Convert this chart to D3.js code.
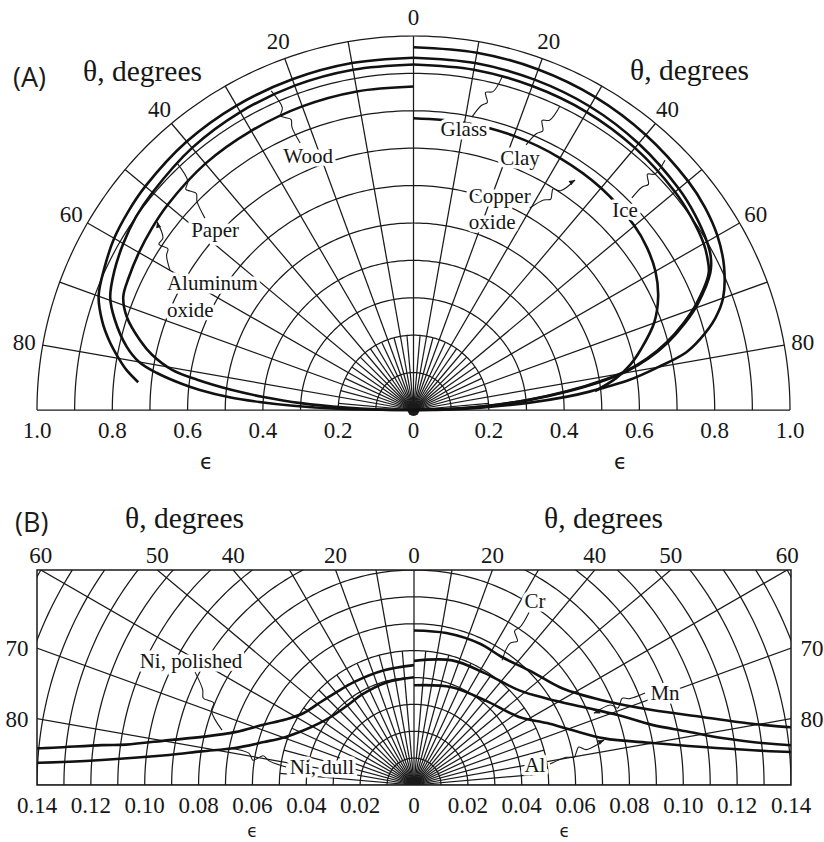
<!DOCTYPE html>
<html>
<head>
<meta charset="utf-8">
<script src="https://cdn.jsdelivr.net/npm/d3@7"></script>
<style>
  body { margin: 0; background: #fff; }
  svg { display: block; }
  .serif { font-family: "Liberation Serif", "Times New Roman", serif; fill: #161616; }
  .halo { stroke: #fff; stroke-width: 7px; stroke-linejoin: round; paint-order: stroke; }
</style>
</head>
<body>
<svg id="chart" width="824" height="842"></svg>
<script>
// ---------- Panel A: directional emissivity of nonconductors ----------
// Each series: [theta (deg from normal), emissivity]
const woodA = [[0,0.942],[10,0.942],[20,0.941],[30,0.94],[40,0.937],[50,0.93],[55,0.925],[60,0.918],[65,0.905],[70,0.89],[74,0.86],[77,0.83],[80,0.795],[82,0.77],[84.2,0.735]];
const paperA = [[0,0.924],[10,0.924],[20,0.923],[30,0.92],[40,0.915],[50,0.905],[55,0.9],[60,0.89],[65,0.877],[69.5,0.86],[73,0.83],[77.5,0.78],[80,0.74],[81.7,0.69],[83.5,0.62],[84.6,0.57],[86,0.49],[87,0.41],[88,0.32],[89,0.2],[90,0]];
const aluminumOxideA = [[0,0.865],[10,0.865],[20,0.864],[30,0.862],[40,0.86],[50,0.853],[55,0.848],[60,0.842],[65,0.835],[68.6,0.828],[72,0.8],[75.6,0.75],[78,0.71],[80.5,0.65],[82,0.58],[83.6,0.49],[85,0.4],[86.5,0.3],[88,0.18],[89,0.1],[90,0]];
const iceA = [[0,0.97],[10,0.97],[20,0.969],[30,0.966],[40,0.96],[50,0.952],[55,0.945],[60,0.932],[65,0.91],[70,0.875],[73,0.838],[76,0.785],[78,0.74],[80,0.66],[82,0.58],[84,0.47],[85,0.41],[86.5,0.3],[88,0.18],[89,0.1],[90,0]];
const glassA = [[0,0.942],[10,0.942],[20,0.94],[30,0.937],[40,0.93],[50,0.92],[55,0.912],[60,0.9],[62.5,0.89],[65,0.87],[69.5,0.805],[72,0.76],[75,0.7],[77.5,0.64],[79.5,0.58],[81,0.52],[83,0.42],[85,0.31],[87,0.19],[88.5,0.1],[90,0]];
const clayA = [[0,0.924],[10,0.924],[20,0.922],[30,0.92],[40,0.915],[50,0.907],[55,0.9],[60,0.89],[62.5,0.88],[65,0.865],[69.5,0.8],[72,0.755],[75,0.695],[77.5,0.635],[79.5,0.575],[81,0.51],[83,0.41],[85,0.3],[87,0.18],[88.5,0.09],[90,0]];
const copperOxideA = [[0,0.78],[10,0.78],[20,0.78],[30,0.778],[40,0.775],[50,0.766],[55,0.757],[60,0.742],[65,0.717],[70,0.68],[75,0.625],[78,0.59],[81,0.545],[84,0.485]];

const leftSeriesA = [woodA, paperA, aluminumOxideA];
const rightSeriesA = [iceA, glassA, clayA, copperOxideA];

const thetaTicksA = [0, 20, 40, 60, 80];
const epsTicksA = [1.0, 0.8, 0.6, 0.4, 0.2, 0, 0.2, 0.4, 0.6, 0.8, 1.0];

// ---------- Panel B: directional emissivity of metals ----------
const niPolishedB = [[0,0.0446],[15,0.0441],[30,0.0443],[40,0.045],[50,0.0468],[57,0.049],[63,0.0536],[68,0.06],[73.5,0.0693],[77,0.08],[79.6,0.0925],[82,0.108],[82.7,0.1168],[84.4,0.14],[85,0.155]];
const niDullB = [[0,0.0401],[15,0.0395],[30,0.0388],[40,0.0386],[50,0.0398],[57,0.0421],[64,0.046],[69.6,0.0511],[74,0.058],[78.3,0.0679],[81,0.08],[83,0.0917],[85.4,0.1163],[86.6,0.1395],[87,0.155]];
const crB = [[0,0.0575],[12,0.0578],[25,0.058],[34.2,0.0577],[46,0.0607],[56.8,0.0657],[65.7,0.0766],[72.5,0.0927],[76.7,0.11],[79.5,0.126],[81.3,0.142],[82,0.155]];
const mnB = [[0,0.0462],[17,0.0485],[32,0.0492],[48,0.0526],[57,0.059],[65,0.0688],[71,0.08],[75.8,0.0912],[78.8,0.103],[81.3,0.1157],[84,0.1412],[84.5,0.155]];
const alB = [[0,0.0371],[21,0.039],[40,0.0411],[57,0.0465],[65,0.0545],[70.8,0.0621],[76.2,0.0727],[80,0.09],[83,0.113],[85,0.1409],[85.5,0.155]];

const leftSeriesB = [niPolishedB, niDullB];
const rightSeriesB = [crB, mnB, alB];

const thetaTopTicksB = [60, 50, 40, 20, 0, 20, 40, 50, 60];
const thetaTopSidesB = [-1, -1, -1, -1, 1, 1, 1, 1, 1];
const thetaSideTicksB = [70, 80];
const epsTicksB = [0.14, 0.12, 0.10, 0.08, 0.06, 0.04, 0.02, 0, 0.02, 0.04, 0.06, 0.08, 0.10, 0.12, 0.14];

// ---------- set-up ----------
const svg = d3.select("#chart");
const rad = d => d * Math.PI / 180;
const ink = "#1a1a1a";

function polarLayer(xs, ys) {
  // side = -1 (left half) or +1 (right half)
  return (theta, eps, side) => [xs(side * eps * Math.sin(rad(theta))), ys(eps * Math.cos(rad(theta)))];
}

function squiggle(p0, p1) {
  const dx = p1[0] - p0[0], dy = p1[1] - p0[1];
  const L = Math.hypot(dx, dy), nx = -dy / L, ny = dx / L;
  const at = (t, o) => [p0[0] + dx * t + nx * o, p0[1] + dy * t + ny * o];
  return d3.line().curve(d3.curveCatmullRom.alpha(0.5))([
    at(0, 0), at(0.3, 0.5), at(0.42, 3.5), at(0.5, -1), at(0.56, -4), at(0.66, 1.5), at(1, 0)
  ]);
}

function arrowHead(g, p0, p1) {
  const a = Math.atan2(p1[1] - p0[1], p1[0] - p0[0]);
  const s = 6, w = 2.6;
  const b = [p1[0] - s * Math.cos(a), p1[1] - s * Math.sin(a)];
  g.append("path")
    .attr("d", `M${p1[0]},${p1[1]}L${b[0] - w * Math.sin(a)},${b[1] + w * Math.cos(a)}L${b[0] + w * Math.sin(a)},${b[1] - w * Math.cos(a)}Z`)
    .attr("fill", ink);
}

const tickFont = 23;
const labelFont = 21;
const titleFont = 29.5;
const lineGen = d3.line().curve(d3.curveCatmullRom.alpha(0.5));

// ================= PANEL A =================
const xA = d3.scaleLinear().domain([-1, 1]).range([37, 790]);
const yA = d3.scaleLinear().domain([0, 1]).range([410, 36]);
const ptA = polarLayer(xA, yA);
const gA = svg.append("g");
const gridA = gA.append("g").attr("fill", "none").attr("stroke", ink).attr("stroke-width", 1.25);

// circles of constant emissivity
d3.range(1, 11).map(k => k / 10).forEach(e => {
  const pts = d3.range(-90, 90.01, 1).map(t => ptA(Math.abs(t), e, t < 0 ? -1 : 1));
  gridA.append("path").attr("d", d3.line()(pts));
});
// radial lines every 10 degrees (full) and 5 degrees (inner)
d3.range(-90, 90.01, 5).forEach(t => {
  const rOut = t % 10 === 0 ? 1 : 0.2;
  const s = t < 0 ? -1 : 1;
  gridA.append("path").attr("d", d3.line()([ptA(Math.abs(t), 0, s), ptA(Math.abs(t), rOut, s)]));
});
gA.append("circle").attr("cx", xA(0)).attr("cy", yA(0)).attr("r", 6).attr("fill", ink);

// data curves
const curvesA = gA.append("g").attr("fill", "none").attr("stroke", "#111").attr("stroke-width", 2.6);
leftSeriesA.forEach(s => curvesA.append("path").attr("d", lineGen(s.map(d => ptA(d[0], d[1], -1)))));
rightSeriesA.forEach(s => curvesA.append("path").attr("d", lineGen(s.map(d => ptA(d[0], d[1], 1)))));

// angle labels around the rim
thetaTicksA.forEach(t => {
  (t === 0 ? [1] : [-1, 1]).forEach(s => {
    const p = ptA(t, 1.05, s);
    gA.append("text").attr("class", "serif").attr("x", p[0]).attr("y", p[1]).attr("dy", "0.35em")
      .attr("text-anchor", "middle").attr("font-size", tickFont).text(t);
  });
});
// emissivity labels along the base
epsTicksA.forEach((e, i) => {
  const v = i < 5 ? -e : e;
  gA.append("text").attr("class", "serif").attr("x", xA(v)).attr("y", 438)
    .attr("text-anchor", "middle").attr("font-size", tickFont).text(e === 0 ? "0" : d3.format(".1f")(e));
});
[-0.55, 0.55].forEach(v => gA.append("text").attr("x", xA(v)).attr("y", 469).attr("text-anchor", "middle")
  .attr("font-family", "DejaVu Sans, sans-serif").attr("font-size", 21).attr("fill", ink).text("ϵ"));

// titles
svg.append("text").attr("x", 13).attr("y", 87).attr("font-family", "Open Sans, sans-serif").attr("font-size", 27).attr("fill", ink).text("(A)");
svg.append("text").attr("class", "serif").attr("x", 83).attr("y", 81).attr("font-size", titleFont).text("θ, degrees");
svg.append("text").attr("class", "serif").attr("x", 630).attr("y", 80).attr("font-size", titleFont).text("θ, degrees");

// series labels (Cartesian positions in emissivity units) with knock-out halo
const labelsA = [
  { t: "Wood", u: -0.280, v: 0.679, a: "middle" },
  { t: "Paper", u: -0.527, v: 0.481, a: "middle" },
  { t: "Aluminum", u: -0.655, v: 0.340, a: "start" },
  { t: "oxide", u: -0.655, v: 0.268, a: "start" },
  { t: "Glass", u: 0.134, v: 0.751, a: "middle" },
  { t: "Clay", u: 0.283, v: 0.676, a: "middle" },
  { t: "Copper", u: 0.147, v: 0.572, a: "start" },
  { t: "oxide", u: 0.147, v: 0.503, a: "start" },
  { t: "Ice", u: 0.562, v: 0.537, a: "middle" }
];
labelsA.forEach(d => gA.append("text").attr("class", "serif halo").attr("x", xA(d.u)).attr("y", yA(d.v))
  .attr("dy", "0.35em").attr("text-anchor", d.a).attr("font-size", labelFont).text(d.t));

const leadersA = [
  { from: [-0.301, 0.714], to: [-0.378, 0.853] },
  { from: [-0.554, 0.513], to: [-0.628, 0.660] },
  { from: [-0.647, 0.374], to: [-0.681, 0.503], arrow: true },
  { from: [0.155, 0.783], to: [0.235, 0.890] },
  { from: [0.299, 0.709], to: [0.389, 0.813] },
  { from: [0.309, 0.540], to: [0.429, 0.615], arrow: true },
  { from: [0.580, 0.567], to: [0.668, 0.668] }
];
const leadG = svg.append("g").attr("fill", "none").attr("stroke", ink).attr("stroke-width", 1.1);
leadersA.forEach(d => {
  const p0 = [xA(d.from[0]), yA(d.from[1])], p1 = [xA(d.to[0]), yA(d.to[1])];
  leadG.append("path").attr("d", squiggle(p0, p1));
  if (d.arrow) arrowHead(svg, p0, p1);
});

// ================= PANEL B =================
const xB = d3.scaleLinear().domain([-0.14, 0.14]).range([37, 791]);
const yB = d3.scaleLinear().domain([0, 0.08]).range([785, 570]);
const ptB = polarLayer(xB, yB);
svg.append("clipPath").attr("id", "frameB").append("rect")
  .attr("x", xB(-0.14)).attr("y", yB(0.08)).attr("width", xB(0.14) - xB(-0.14)).attr("height", yB(0) - yB(0.08));
const gB = svg.append("g").attr("clip-path", "url(#frameB)");
const gridB = gB.append("g").attr("fill", "none").attr("stroke", ink).attr("stroke-width", 1.25);
d3.range(1, 17).map(k => k / 100).forEach(e => {
  const pts = d3.range(-90, 90.01, 1).map(t => ptB(Math.abs(t), e, t < 0 ? -1 : 1));
  gridB.append("path").attr("d", d3.line()(pts));
});
d3.range(-90, 90.01, 5).forEach(t => {
  const rOut = t % 10 === 0 ? 0.2 : 0.05;
  const s = t < 0 ? -1 : 1;
  gridB.append("path").attr("d", d3.line()([ptB(Math.abs(t), 0, s), ptB(Math.abs(t), rOut, s)]));
});
gB.append("circle").attr("cx", xB(0)).attr("cy", yB(0)).attr("r", 6).attr("fill", ink);
const curvesB = gB.append("g").attr("fill", "none").attr("stroke", "#111").attr("stroke-width", 2.6);
leftSeriesB.forEach(s => curvesB.append("path").attr("d", lineGen(s.map(d => ptB(d[0], d[1], -1)))));
rightSeriesB.forEach(s => curvesB.append("path").attr("d", lineGen(s.map(d => ptB(d[0], d[1], 1)))));
svg.append("rect").attr("x", xB(-0.14)).attr("y", yB(0.08)).attr("width", xB(0.14) - xB(-0.14))
  .attr("height", yB(0) - yB(0.08)).attr("fill", "none").attr("stroke", ink).attr("stroke-width", 1.5);

// angle labels on the top edge and the sides
thetaTopTicksB.forEach((t, i) => {
  const x = xB(thetaTopSidesB[i] * 0.08 * Math.tan(rad(t)));
  svg.append("text").attr("class", "serif").attr("x", x).attr("y", 563).attr("text-anchor", "middle")
    .attr("font-size", tickFont).text(t);
});
thetaSideTicksB.forEach(t => {
  const y = yB(0.14 / Math.tan(rad(t)));
  [17, 812].forEach(x => svg.append("text").attr("class", "serif").attr("x", x).attr("y", y).attr("dy", "0.35em")
    .attr("text-anchor", "middle").attr("font-size", tickFont).text(t));
});
epsTicksB.forEach((e, i) => {
  const v = i < 7 ? -e : e;
  svg.append("text").attr("class", "serif").attr("x", xB(v)).attr("y", 813).attr("text-anchor", "middle")
    .attr("font-size", tickFont).text(e === 0 ? "0" : d3.format(".2f")(e));
});
[-0.06, 0.056].forEach(v => svg.append("text").attr("x", xB(v)).attr("y", 837).attr("text-anchor", "middle")
  .attr("font-family", "DejaVu Sans, sans-serif").attr("font-size", 17).attr("fill", ink).text("ϵ"));

svg.append("text").attr("x", 15).attr("y", 532).attr("font-family", "Open Sans, sans-serif").attr("font-size", 27).attr("fill", ink).text("(B)");
svg.append("text").attr("class", "serif").attr("x", 125).attr("y", 528).attr("font-size", titleFont).text("θ, degrees");
svg.append("text").attr("class", "serif").attr("x", 544).attr("y", 528).attr("font-size", titleFont).text("θ, degrees");

const labelsB = [
  { t: "Ni, polished", u: -0.0828, v: 0.0464 },
  { t: "Ni, dull", u: -0.0342, v: 0.0067 },
  { t: "Cr", u: 0.0449, v: 0.0687 },
  { t: "Mn", u: 0.0932, v: 0.0342 },
  { t: "Al", u: 0.0449, v: 0.0074 }
];
labelsB.forEach(d => svg.append("text").attr("class", "serif halo").attr("x", xB(d.u)).attr("y", yB(d.v))
  .attr("dy", "0.35em").attr("text-anchor", "middle").attr("font-size", labelFont).text(d.t));

const leadersB = [
  { from: [-0.0813, 0.042], to: [-0.0713, 0.0204] },
  { from: [-0.0475, 0.0067], to: [-0.0687, 0.0137] },
  { from: [0.0427, 0.0642], to: [0.0327, 0.0464] },
  { from: [0.0858, 0.0342], to: [0.0668, 0.0267], arrow: true },
  { from: [0.0505, 0.0078], to: [0.0706, 0.0167], arrow: true }
];
leadersB.forEach(d => {
  const p0 = [xB(d.from[0]), yB(d.from[1])], p1 = [xB(d.to[0]), yB(d.to[1])];
  leadG.append("path").attr("d", squiggle(p0, p1));
  if (d.arrow) arrowHead(svg, p0, p1);
});
</script>
</body>
</html>
